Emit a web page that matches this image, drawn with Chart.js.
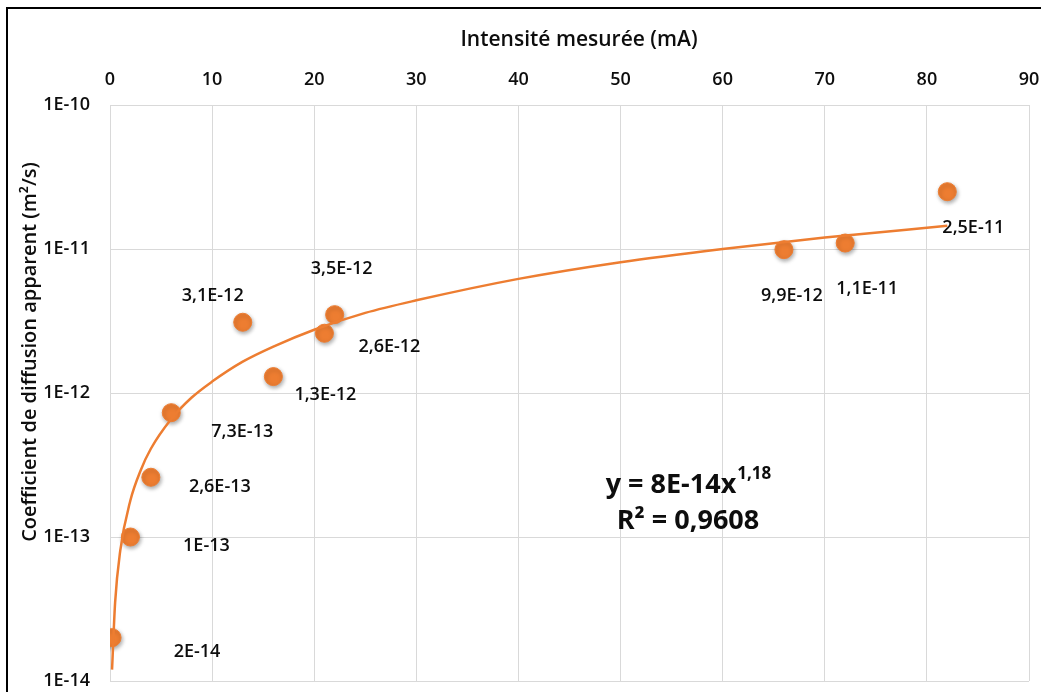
<!DOCTYPE html>
<html>
<head>
<meta charset="utf-8">
<script src="https://cdn.jsdelivr.net/npm/chart.js@4.4.1/dist/chart.umd.min.js"></script>
<style>
  html, body { margin: 0; padding: 0; background: #fff; }
  #wrap { width: 1041px; height: 692px; position: relative; }
</style>
</head>
<body>
<div id="wrap"><canvas id="diffChart" width="1041" height="692"></canvas></div>
<script>
// mesures
const intensite = [0.2, 2, 4, 6, 13, 16, 21, 22, 66, 72, 82];
const coefficient = [2e-14, 1e-13, 2.6e-13, 7.3e-13, 3.1e-12, 1.3e-12, 2.6e-12, 3.5e-12, 9.9e-12, 1.1e-11, 2.5e-11];
const pointLabels = ["2E-14", "1E-13", "2,6E-13", "7,3E-13", "3,1E-12", "1,3E-12", "2,6E-12", "3,5E-12", "9,9E-12", "1,1E-11", "2,5E-11"];

// courbe de tendance
const trendX = [0.2, 0.5, 1, 2, 3, 4, 6, 8, 10, 13, 16, 20, 25, 30, 40, 50, 60, 70, 82];
const trendY = [1.2e-14, 3.5e-14, 8e-14, 1.8e-13, 2.9e-13, 4.1e-13, 6.6e-13, 9.3e-13, 1.2e-12, 1.65e-12, 2.1e-12, 2.75e-12, 3.6e-12, 4.4e-12, 6.2e-12, 8.1e-12, 1.0e-11, 1.2e-11, 1.45e-11];

const xTicks = [0, 10, 20, 30, 40, 50, 60, 70, 80, 90];
const yTickValues = [1e-14, 1e-13, 1e-12, 1e-11, 1e-10];
const yTickLabels = ["1E-14", "1E-13", "1E-12", "1E-11", "1E-10"];

const xTitle = "Intensité mesurée (mA)";
const yTitle = "Coefficient de diffusion apparent (m²/s)";
const eqMain = "y = 8E-14x";
const eqExp = "1,18";
const eqR2 = "R² = 0,9608";

// décalage des étiquettes par rapport aux points (px)
const labelOffsets = [[85, 14], [76, 9], [69, 10], [71, 19], [-30, -26], [52, 18], [65, 14], [7, -46], [8, 46], [22, 46], [26, 36]];

const FONT = "'Open Sans', sans-serif";
const ORANGE = "#ED7D31";
const GRID = "#d9d9d9";
const TXT = "#0d0d0d";

const noPad = (scale) => {
  scale.paddingLeft = 0;
  scale.paddingRight = 0;
  scale.paddingTop = 0;
  scale.paddingBottom = 0;
};

const overlay = {
  id: "overlay",
  beforeDatasetDraw(chart, args) {
    if (args.index === 1) {
      const ctx = chart.ctx;
      ctx.save();
      ctx.shadowColor = "rgba(0,0,0,0.35)";
      ctx.shadowBlur = 4;
      ctx.shadowOffsetX = 1;
      ctx.shadowOffsetY = 2;
    }
  },
  afterDatasetDraw(chart, args) {
    if (args.index === 1) chart.ctx.restore();
  },
  afterDraw(chart) {
    const ctx = chart.ctx;
    ctx.save();
    // cadre
    ctx.strokeStyle = "#000";
    ctx.lineWidth = 2;
    ctx.beginPath();
    ctx.moveTo(7, 692);
    ctx.lineTo(7, 8);
    ctx.lineTo(1041, 8);
    ctx.stroke();

    ctx.fillStyle = TXT;
    ctx.textAlign = "center";
    ctx.textBaseline = "middle";

    // étiquettes des points
    ctx.font = "600 18px " + FONT;
    const meta = chart.getDatasetMeta(1);
    meta.data.forEach((pt, i) => {
      ctx.fillText(pointLabels[i], pt.x + labelOffsets[i][0], pt.y + labelOffsets[i][1]);
    });

    // titres des axes
    ctx.font = "600 21px " + FONT;
    ctx.fillText(xTitle, 579, 40);
    ctx.save();
    ctx.translate(30, 352);
    ctx.rotate(-Math.PI / 2);
    ctx.font = "600 20px " + FONT;
    ctx.fillText(yTitle, 0, 0);
    ctx.restore();

    // équation
    ctx.font = "bold 27px " + FONT;
    const wMain = ctx.measureText(eqMain).width;
    ctx.font = "bold 17px " + FONT;
    const wExp = ctx.measureText(eqExp).width;
    const x0 = 688 - (wMain + wExp) / 2;
    ctx.textAlign = "left";
    ctx.font = "bold 27px " + FONT;
    ctx.fillText(eqMain, x0, 485);
    ctx.font = "bold 17px " + FONT;
    ctx.fillText(eqExp, x0 + wMain + 1, 474);
    ctx.textAlign = "center";
    ctx.font = "bold 27px " + FONT;
    ctx.fillText(eqR2, 688, 521);
    ctx.restore();
  }
};

new Chart(document.getElementById("diffChart"), {
  type: "scatter",
  data: {
    datasets: [
      {
        type: "line",
        label: "Tendance",
        data: trendX.map((x, i) => ({ x: x, y: trendY[i] })),
        borderColor: ORANGE,
        borderWidth: 2.5,
        pointRadius: 0,
        fill: false,
        tension: 0.4,
        cubicInterpolationMode: "monotone"
      },
      {
        label: "Mesures",
        data: intensite.map((x, i) => ({ x: x, y: coefficient[i] })),
        backgroundColor: ORANGE,
        borderColor: ORANGE,
        pointRadius: 9,
        pointHoverRadius: 9
      }
    ]
  },
  options: {
    responsive: false,
    animation: false,
    events: [],
    layout: { padding: { left: 0, top: 0, right: 12, bottom: 11 } },
    plugins: { legend: { display: false }, tooltip: { enabled: false } },
    scales: {
      x: {
        type: "linear",
        position: "top",
        min: 0,
        max: 90,
        afterBuildTicks(scale) { scale.ticks = xTicks.map(v => ({ value: v })); },
        afterFit(scale) { scale.height = 105; noPad(scale); },
        grid: { color: GRID, lineWidth: 1, drawTicks: false },
        border: { color: GRID },
        ticks: {
          padding: 14,
          maxRotation: 0,
          color: TXT,
          font: { family: FONT, size: 18, weight: "600" }
        }
      },
      y: {
        type: "logarithmic",
        min: 1e-14,
        max: 1e-10,
        afterBuildTicks(scale) { scale.ticks = yTickValues.map(v => ({ value: v })); },
        afterFit(scale) { scale.width = 110; noPad(scale); },
        grid: { color: GRID, lineWidth: 1, drawTicks: false },
        border: { color: GRID },
        ticks: {
          padding: 20,
          color: TXT,
          font: { family: FONT, size: 18, weight: "600" },
          callback: function (value) {
            const i = yTickValues.findIndex(v => Math.abs(v - value) / v < 1e-6);
            return i >= 0 ? yTickLabels[i] : "";
          }
        }
      }
    }
  },
  plugins: [overlay]
});
</script>
</body>
</html>
